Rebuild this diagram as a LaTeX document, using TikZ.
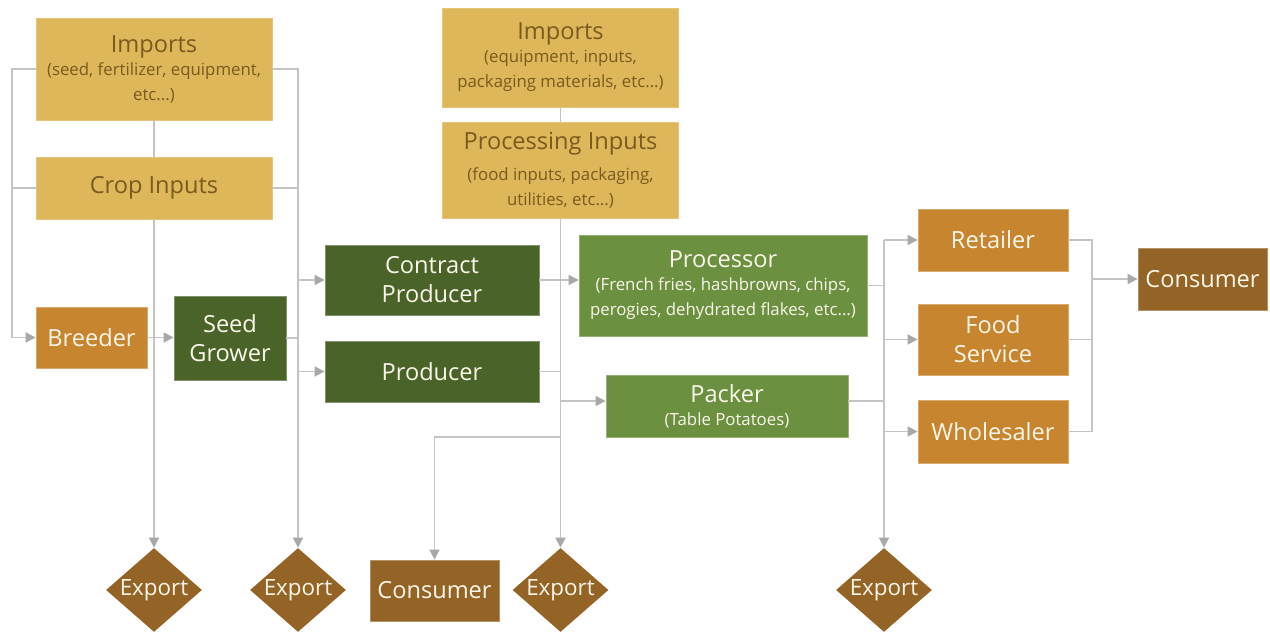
\documentclass[tikz,border=0pt]{standalone}
\usepackage{fontspec}
\setmainfont{Open Sans}
\usetikzlibrary{shapes.geometric,arrows.meta}
\definecolor{impY}{HTML}{DDB75A}
\definecolor{impT}{HTML}{7A5A1E}
\definecolor{dkG}{HTML}{4A6329}
\definecolor{ltG}{HTML}{6A9040}
\definecolor{orng}{HTML}{C6852E}
\definecolor{brwn}{HTML}{946426}
\definecolor{lineG}{HTML}{C4C4C4}
\definecolor{arrG}{HTML}{A8A8A8}
\definecolor{crm}{HTML}{FBF6EA}
\newcommand{\sbt}[1]{{\fontsize{8.4pt}{11pt}\selectfont #1}}
\tikzset{
  base/.style={rectangle, inner sep=0pt, align=center, font=\fontsize{11.8pt}{14.5pt}\selectfont},
  yel/.style={base, fill=impY, draw=impY!80!white, line width=0.4pt, text=impT},
  dgreen/.style={base, fill=dkG, draw=dkG!70!white, line width=0.4pt, text=crm},
  lgreen/.style={base, fill=ltG, draw=ltG!70!white, line width=0.4pt, text=crm},
  orbox/.style={base, fill=orng, draw=orng!70!white, line width=0.4pt, text=crm},
  brbox/.style={base, fill=brwn, draw=brwn!70!white, line width=0.4pt, text=crm},
  expd/.style={diamond, fill=brwn, inner sep=0pt, minimum width=48pt, minimum height=42pt, text=crm, font=\fontsize{11.2pt}{14.5pt}\selectfont},
  conn/.style={draw=lineG, line width=0.9pt},
  arr/.style={conn, -{Triangle[length=5pt,width=5pt,fill=arrG,color=arrG]}}
}
\begin{document}
\begin{tikzpicture}[x=0.5pt,y=-0.5pt]
\useasboundingbox (0,0) rectangle (1270,635);
% nodes
\node[yel, minimum width=118pt, minimum height=51pt] (impL) at (154,69)
  {Imports\\[-3pt]\sbt{(seed, fertilizer, equipment,}\\[-2pt]\sbt{etc...)}};
\node[yel, minimum width=118pt, minimum height=31pt] (cropIn) at (154,188) {Crop Inputs};
\node[orbox, minimum width=55.5pt, minimum height=30.5pt] (breeder) at (91.5,337.5) {Breeder};
\node[dgreen, minimum width=56pt, minimum height=42pt] (seed) at (230,338) {Seed\\Grower};
\node[dgreen, minimum width=107pt, minimum height=35pt] (contract) at (432,280) {Contract\\Producer};
\node[dgreen, minimum width=107pt, minimum height=30.5pt] (producer) at (432,371.5) {Producer};
\node[yel, minimum width=118pt, minimum height=49.5pt] (impM) at (560.5,57.5)
  {Imports\\[-3pt]\sbt{(equipment, inputs,}\\[-2pt]\sbt{packaging materials, etc...)}};
\node[yel, minimum width=118pt, minimum height=48pt] (procIn) at (560.5,170)
  {Processing Inputs\\[1pt]\sbt{(food inputs, packaging,}\\[-2pt]\sbt{utilities, etc...)}};
\node[lgreen, minimum width=144pt, minimum height=50.5pt] (processor) at (723,285.5)
  {Processor\\[-3pt]\sbt{(French fries, hashbrowns, chips,}\\[-2pt]\sbt{perogies, dehydrated flakes, etc...)}};
\node[lgreen, minimum width=121pt, minimum height=31pt] (packer) at (727,406)
  {Packer\\[-3pt]\sbt{(Table Potatoes)}};
\node[orbox, minimum width=75pt, minimum height=31pt] (retailer) at (993,240) {Retailer};
\node[orbox, minimum width=75pt, minimum height=35.5pt] (food) at (993,339.5) {Food\\Service};
\node[orbox, minimum width=75pt, minimum height=31.5pt] (whole) at (993,431.5) {Wholesaler};
\node[brbox, minimum width=64.5pt, minimum height=31pt] (consR) at (1202.5,279) {Consumer};
\node[brbox, minimum width=64.5pt, minimum height=30.5pt] (consB) at (434.5,590.5) {Consumer};
\node[expd] (e1) at (154,590) {\makebox[0pt]{\raisebox{-1pt}{Export}}};
\node[expd] (e2) at (298,590) {\makebox[0pt]{\raisebox{-1pt}{Export}}};
\node[expd] (e3) at (560.5,590) {\makebox[0pt]{\raisebox{-1pt}{Export}}};
\node[expd] (e4) at (884,590) {\makebox[0pt]{\raisebox{-1pt}{Export}}};
\coordinate (lx) at (12,0);
\coordinate (rx2) at (1092,0);
\coordinate (j1) at (560.5,437);
% left connectors
\draw[arr] (impL.west) -- (impL.west -| lx) |- (breeder.west);
\draw[conn] (cropIn.west) -- (cropIn.west -| lx);
\draw[arr] (impL.east) -| (e2.north);
\draw[conn] (cropIn.east) -- (cropIn.east -| e2);
\draw[conn] (impL.south) -- (cropIn.north);
\draw[arr] (cropIn.south) -- (e1.north);
\draw[arr] (breeder.east) -- (breeder.east -| seed.west);
\draw[conn] (seed.east) -- (seed.east -| e2);
\draw[arr] (contract.west -| e2) -- (contract.west);
\draw[arr] (producer.west -| e2) -- (producer.west);
% middle
\draw[conn] (impM.south) -- (procIn.north);
\draw[arr] (procIn.south) -- (e3.north);
\draw[arr] (contract.east) -- (contract.east -| processor.west);
\draw[conn] (producer.east) -- (producer.east -| e3);
\draw[arr] ([yshift=2.5pt]packer.west -| e3) -- ([yshift=2.5pt]packer.west);
\draw[arr] (j1) -| (consB.north);
% right
\draw[conn] (processor.east) -- (processor.east -| e4);
\draw[conn] ([yshift=2.5pt]packer.east) -- ([yshift=2.5pt]packer.east -| e4);
\draw[arr] (retailer.west -| e4) -- (e4.north);
\draw[arr] (retailer.west -| e4) -- (retailer.west);
\draw[arr] (food.west -| e4) -- (food.west);
\draw[arr] (whole.west -| e4) -- (whole.west);
\draw[conn] (retailer.east) -- (retailer.east -| rx2) -- (whole.east -| rx2) -- (whole.east);
\draw[conn] (food.east) -- (food.east -| rx2);
\draw[arr] (consR.west -| rx2) -- (consR.west);
\end{tikzpicture}
\end{document}
